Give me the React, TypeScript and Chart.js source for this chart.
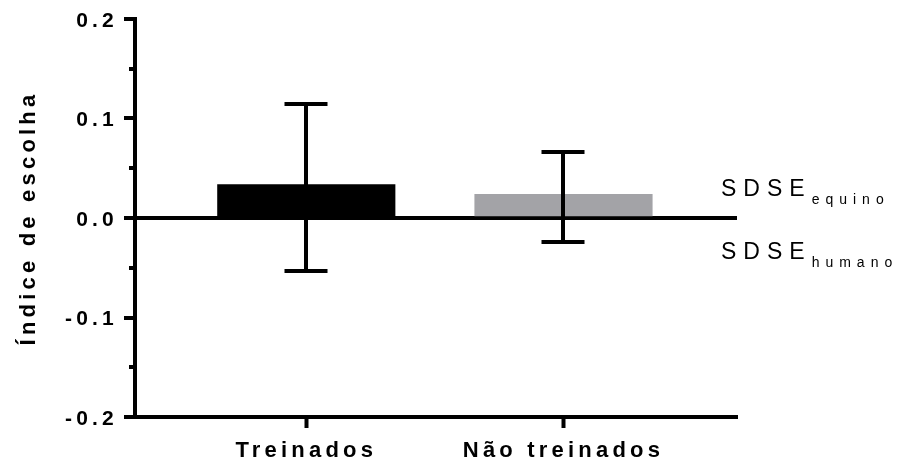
import { useEffect, useRef } from 'react';
import { Chart, registerables } from 'chart.js';

Chart.register(...registerables);

const CATEGORIES = ['Treinados', 'Não treinados'];
const MEANS = [0.0335, 0.0238];
const UPPER = [0.1144, 0.066];
const LOWER = [-0.0531, -0.0238];
const BAR_COLORS = ['#000000', '#a3a3a7'];
const Y_TITLE = 'Índice de escolha';
const Y_MIN = -0.2;
const Y_MAX = 0.2;
const Y_STEP = 0.1;
const MINOR_TICKS = [-0.15, -0.05, 0.05, 0.15];
const X_MIN = 0.334;
const X_MAX = 2.6746;
const SIDE_MAIN = ['SDSE', 'SDSE'];
const SIDE_SUB = ['equino', 'humano'];

const FONT = 'Liberation Sans';

const errorBarPlugin = {
  id: 'errorBars',
  afterDatasetsDraw(chart: any) {
    const ctx = chart.ctx;
    const meta = chart.getDatasetMeta(0);
    const y = chart.scales.y;
    ctx.save();
    ctx.strokeStyle = '#000';
    ctx.lineWidth = 4;
    ctx.lineCap = 'butt';
    meta.data.forEach((el: any, i: number) => {
      const x = Math.round(el.x);
      const yt = Math.round(y.getPixelForValue(UPPER[i]));
      const yb = Math.round(y.getPixelForValue(LOWER[i]));
      const hw = 21.5;
      ctx.beginPath();
      ctx.moveTo(x, yt);
      ctx.lineTo(x, yb);
      ctx.moveTo(x - hw, yt);
      ctx.lineTo(x + hw, yt);
      ctx.moveTo(x - hw, yb);
      ctx.lineTo(x + hw, yb);
      ctx.stroke();
    });
    ctx.restore();
  },
};

const spacingPlugin = {
  id: 'spacing',
  beforeDraw(chart: any) {
    (chart.ctx as any).letterSpacing = '4.2px';
  },
  afterDraw(chart: any) {
    const ctx = chart.ctx;
    const y = chart.scales.y;
    const area = chart.chartArea;
    ctx.save();
    // minor ticks
    ctx.strokeStyle = '#000';
    ctx.lineWidth = 4;
    ctx.beginPath();
    MINOR_TICKS.forEach((v) => {
      const py = Math.round(y.getPixelForValue(v));
      ctx.moveTo(area.left - 6, py);
      ctx.lineTo(area.left, py);
    });
    ctx.stroke();
    // side labels
    const zero = y.getPixelForValue(0);
    const baselines = [zero - 22, zero + 41.3];
    const x0 = area.right - 16;
    ctx.fillStyle = '#000';
    ctx.textAlign = 'left';
    ctx.textBaseline = 'alphabetic';
    SIDE_MAIN.forEach((m, i) => {
      ctx.font = `23px "${FONT}"`;
      (ctx as any).letterSpacing = '7px';
      ctx.fillText(m, x0, baselines[i]);
      const w = ctx.measureText(m).width;
      ctx.font = `14px "${FONT}"`;
      (ctx as any).letterSpacing = '6px';
      ctx.fillText(SIDE_SUB[i], x0 + w, baselines[i] + 7.5);
    });
    ctx.restore();
  },
};

export default function App() {
  const ref = useRef<HTMLCanvasElement>(null);
  useEffect(() => {
    document.body.style.margin = '0';
    Chart.defaults.font.family = FONT;
    Chart.defaults.color = '#000';
    const chart = new Chart(ref.current!, {
      type: 'bar',
      data: {
        datasets: [
          {
            data: CATEGORIES.map((_, i) => ({ x: i + 1, y: MEANS[i] })),
            backgroundColor: BAR_COLORS,
            borderWidth: 0,
            barThickness: 177.5,
          } as any,
        ],
      },
      options: {
        animation: false,
        responsive: false,
        layout: { padding: { top: 19, right: 169, left: 0, bottom: 0 } },
        plugins: { legend: { display: false }, tooltip: { enabled: false } },
        scales: {
          x: {
            type: 'linear',
            min: X_MIN,
            max: X_MAX,
            offset: false,
            afterBuildTicks: (scale: any) => {
              scale.ticks = CATEGORIES.map((_, i) => ({ value: i + 1 }));
            },
            afterFit: (scale: any) => {
              scale.height = 51;
            },
            ticks: {
              callback: (v: any) => CATEGORIES[Math.round(Number(v)) - 1] ?? '',
              font: { size: 22, weight: 'bold' },
              color: '#000',
              padding: 10,
              maxRotation: 0,
              autoSkip: false,
            },
            grid: {
              offset: false,
              drawOnChartArea: false,
              drawTicks: true,
              tickLength: 11,
              tickColor: '#000',
              tickWidth: 4,
            },
            border: { display: true, color: '#000', width: 4 },
          },
          y: {
            type: 'linear',
            min: Y_MIN,
            max: Y_MAX,
            z: 1,
            afterFit: (scale: any) => {
              scale.width = 135;
            },
            ticks: {
              stepSize: Y_STEP,
              callback: (v: any) => Number(v).toFixed(1),
              font: { size: 21, weight: 'bold' },
              color: '#000',
              padding: 6,
              labelOffset: 2,
            },
            grid: {
              drawOnChartArea: true,
              drawTicks: true,
              tickLength: 11,
              tickColor: '#000',
              tickWidth: 4,
              lineWidth: 4,
              color: (c: any) =>
                c.tick && Math.abs(c.tick.value) < 1e-9 ? '#000' : 'rgba(0,0,0,0)',
            },
            border: { display: true, color: '#000', width: 4 },
            title: {
              display: true,
              text: Y_TITLE,
              font: { size: 22, weight: 'bold' },
              color: '#000',
              padding: { top: 16, bottom: 0 },
            },
          },
        },
      },
      plugins: [errorBarPlugin, spacingPlugin],
    } as any);
    return () => chart.destroy();
  }, []);
  return (
    <div style={{ width: 906, height: 468 }}>
      <canvas ref={ref} width={906} height={468} style={{ display: 'block' }} />
    </div>
  );
}
